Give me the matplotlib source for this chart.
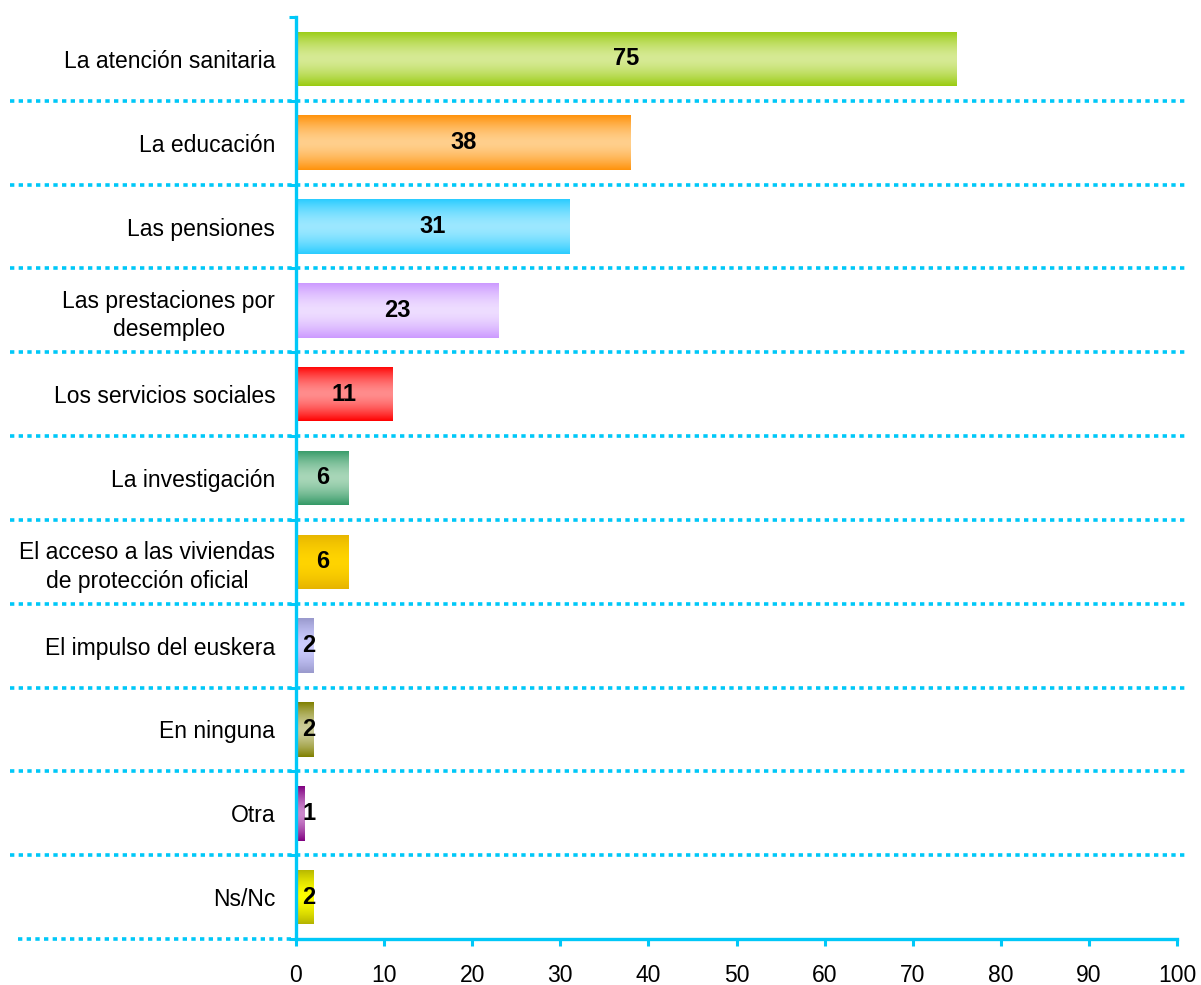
import numpy as np
import matplotlib
matplotlib.use("Agg")
import matplotlib.pyplot as plt
from matplotlib.colors import LinearSegmentedColormap
from matplotlib.transforms import blended_transform_factory

categories = [
    "La atención sanitaria",
    "La educación",
    "Las pensiones",
    "Las prestaciones por\ndesempleo",
    "Los servicios sociales",
    "La investigación",
    "El acceso a las viviendas\nde protección oficial",
    "El impulso del euskera",
    "En ninguna",
    "Otra",
    "Ns/Nc",
]
values = [75, 38, 31, 23, 11, 6, 6, 2, 2, 1, 2]
edge_colors = ["#99CB10", "#FF920A", "#2ACCFF", "#CC99FF", "#FF0000", "#339966",
               "#E6B400", "#9999CC", "#808000", "#800080", "#B3B300"]
light_colors = ["#D6EA94", "#FFCF8C", "#9CE8FF", "#EEDDFF", "#FF8C8C", "#A8D6B8",
                "#FFD400", "#CCCCFF", "#CCCC99", "#CC88CC", "#FFFF00"]
xticks = list(range(0, 101, 10))

plt.rcParams["font.family"] = ["Liberation Sans", "DejaVu Sans"]
CYAN = "#00C8F8"

fig = plt.figure(figsize=(12.01, 9.85), dpi=100)
ax = fig.add_axes([296 / 1201, 1 - 939 / 985, (1177 - 296) / 1201, (939 - 17) / 985])

n = len(categories)
ypos = np.arange(n)
h = 0.65
bars = ax.barh(ypos, values, height=h, color=edge_colors, linewidth=0, zorder=2)

t = np.abs(np.linspace(-1, 1, 200)) ** 1.6
for bar, ec, lc, v in zip(bars, edge_colors, light_colors, values):
    cmap = LinearSegmentedColormap.from_list("g", [lc, ec])
    x0, y0 = bar.get_x(), bar.get_y()
    im = ax.imshow(t.reshape(-1, 1), cmap=cmap, vmin=0, vmax=1, aspect="auto",
                   extent=(x0, x0 + bar.get_width(), y0 + bar.get_height(), y0),
                   interpolation="bilinear", zorder=3)
    im.set_clip_path(bar)
    xt = max(v / 2, 1.45)
    ax.text(xt, bar.get_y() + bar.get_height() / 2, str(v), ha="center", va="center",
            fontsize=17, fontweight="bold", color="black", zorder=5)

ax.set_xlim(0, 100)
ax.set_ylim(n - 0.5, -0.5)
ax.set_xticks(xticks)
ax.set_xticklabels([str(x) for x in xticks], fontsize=16.5)
ax.set_yticks(ypos)
ax.set_yticklabels(categories, fontsize=16.5, multialignment="center", linespacing=1.3)
ax.set_yticks(np.arange(-0.5, n, 1.0), minor=True)

ax.tick_params(axis="y", which="major", length=0, pad=15)
ax.tick_params(axis="y", which="minor", length=5, width=2.2, color=CYAN, direction="out")
ax.tick_params(axis="x", which="major", length=5, width=2.2, color=CYAN, direction="out", pad=13)

for s in ["top", "right"]:
    ax.spines[s].set_visible(False)
for s in ["left", "bottom"]:
    ax.spines[s].set_color(CYAN)
    ax.spines[s].set_linewidth(2.4)
    ax.spines[s].set_zorder(6)

trans = blended_transform_factory(fig.transFigure, ax.transData)
for b in np.arange(0.5, n - 0.5, 1.0):
    ax.plot([10 / 1201, 1186 / 1201], [b, b], transform=trans, color=CYAN, lw=2.6,
            linestyle=(0, (1.2, 1.2)), dash_capstyle="butt", clip_on=False, zorder=1)
ax.plot([18 / 1201, 296 / 1201], [n - 0.5, n - 0.5], transform=trans, color=CYAN, lw=2.6,
        linestyle=(0, (1.2, 1.2)), dash_capstyle="butt", clip_on=False, zorder=1)

fig.savefig("out.png", dpi=100)
